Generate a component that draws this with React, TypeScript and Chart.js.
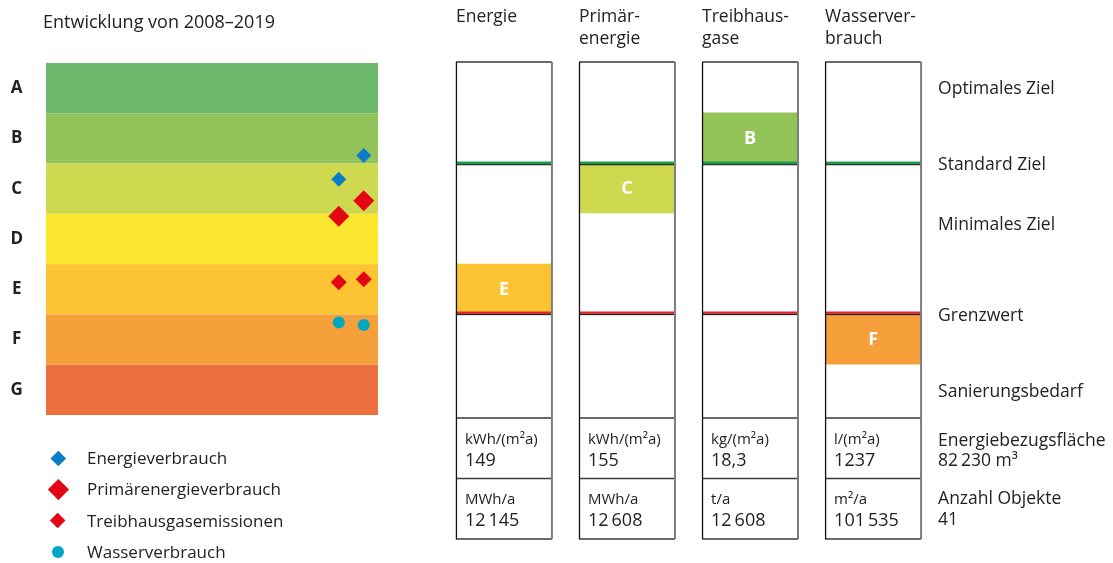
import React, { useEffect, useRef } from 'react';
import { Chart, registerables } from 'chart.js';

Chart.register(...registerables);

const FONT = '"Open Sans", "Noto Sans", sans-serif';
const TEXT = '#222222';

// Effizienzklassen A–G (oben nach unten) und ihre Farben
const klassen = ['A', 'B', 'C', 'D', 'E', 'F', 'G'];
const klassenFarben = ['#6db96e', '#93c45a', '#cfd94f', '#fde62f', '#fcc433', '#f5a03b', '#ed7040'];

// Entwicklung 2008 → 2019, Lage auf der Klassenskala (0 = Oberkante A, 7 = Unterkante G)
const jahre = ['2008', '2019'];
const energieverbrauch = [2.31, 1.84];
const primaerenergieverbrauch = [3.05, 2.74];
const treibhausgasemissionen = [4.36, 4.3];
const wasserverbrauch = [5.16, 5.21];

// Indikatoren und aktuelle Klasse (Index in klassen)
const indikatoren = ['Energie', 'Primär-\nenergie', 'Treibhaus-\ngase', 'Wasserver-\nbrauch'];
const indikatorKlasse = [4, 2, 1, 5];

// Zielwerte auf der Klassenskala
const standardZiel = 2;
const grenzwert = 5;
const zielBeschriftungen = ['Optimales Ziel', 'Standard Ziel', 'Minimales Ziel', 'Grenzwert', 'Sanierungsbedarf'];
const zielPositionen = [0.5, 2, 3.2, 5, 6.5];

// Kennzahlen je Indikator
const flaechenEinheiten = ['kWh/(m²a)', 'kWh/(m²a)', 'kg/(m²a)', 'l/(m²a)'];
const flaechenWerte = ['149', '155', '18,3', '1237'];
const gesamtEinheiten = ['MWh/a', 'MWh/a', 't/a', 'm²/a'];
const gesamtWerte = ['12\u2009145', '12\u2009608', '12\u2009608', '101\u2009535'];
const zusatzTitel = ['Energiebezugsfläche', 'Anzahl Objekte'];
const zusatzWerte = ['82\u2009230 m³', '41'];

const legende = [
  { label: 'Energieverbrauch', color: '#0b7cc6', style: 'rectRot', radius: 7.5 },
  { label: 'Primärenergieverbrauch', color: '#e30613', style: 'rectRot', radius: 10.5 },
  { label: 'Treibhausgasemissionen', color: '#e30613', style: 'rectRot', radius: 8 },
  { label: 'Wasserverbrauch', color: '#00a7c2', style: 'circle', radius: 6 },
];
const reihen = [energieverbrauch, primaerenergieverbrauch, treibhausgasemissionen, wasserverbrauch];

function Entwicklung() {
  const ref = useRef<HTMLCanvasElement>(null);
  useEffect(() => {
    const bands = {
      id: 'bands',
      beforeDatasetsDraw(chart: any) {
        const { ctx, chartArea, scales } = chart;
        const y = scales.y;
        klassenFarben.forEach((c, i) => {
          const t = y.getPixelForValue(i);
          const b = y.getPixelForValue(i + 1);
          ctx.fillStyle = c;
          ctx.fillRect(chartArea.left, t, chartArea.right - chartArea.left, b - t);
        });
      },
    };
    const chart = new Chart(ref.current!, {
      type: 'scatter',
      data: {
        datasets: legende.map((l, k) => ({
          label: l.label,
          data: jahre.map((_, i) => ({ x: i + 1, y: reihen[k][i] })),
          pointStyle: l.style as any,
          pointRadius: l.radius,
          pointHoverRadius: l.radius,
          backgroundColor: l.color,
          borderWidth: 0,
        })),
      },
      options: {
        responsive: false,
        animation: false,
        layout: { padding: { top: 63, bottom: 148, right: 22, left: 0 } },
        plugins: { legend: { display: false }, tooltip: { enabled: false } },
        scales: {
          x: { type: 'linear', min: -10.71, max: 2.57, display: false },
          y: {
            type: 'linear',
            reverse: true,
            min: 0,
            max: 7,
            grid: { display: false, drawTicks: false },
            border: { display: false },
            afterFit: (s: any) => {
              s.width = 46;
            },
            afterBuildTicks: (s: any) => {
              s.ticks = klassen.map((_, i) => ({ value: i + 0.5 }));
            },
            ticks: {
              padding: 23,
              crossAlign: 'center',
              color: TEXT,
              font: { family: FONT, size: 17, weight: 'bold' },
              callback: (_v: any, i: number) => klassen[i],
            },
          },
        },
      },
      plugins: [bands],
    });
    return () => chart.destroy();
  }, []);
  return <canvas ref={ref} width={400} height={563} style={{ position: 'absolute', left: 0, top: 0 }} />;
}

function Indikatoren() {
  const ref = useRef<HTMLCanvasElement>(null);
  useEffect(() => {
    const rahmen = {
      id: 'rahmen',
      afterDatasetsDraw(chart: any) {
        const { ctx, chartArea, scales } = chart;
        const y = scales.y;
        const bars = chart.getDatasetMeta(0).data;
        const top = chartArea.top;
        const rowH = 60.5;
        const row1 = chartArea.bottom;
        const row2 = row1 + rowH;
        const bottom = row2 + rowH;
        const yStd = y.getPixelForValue(standardZiel);
        const yGrenz = y.getPixelForValue(grenzwert);
        ctx.save();
        bars.forEach((bar: any, i: number) => {
          const l = bar.x - bar.width / 2;
          const r = bar.x + bar.width / 2;
          // Ziellinien
          ctx.fillStyle = '#1a9b4b';
          ctx.fillRect(l, yStd - 1.3, r - l, 2.5);
          ctx.fillStyle = '#1f2a22';
          ctx.fillRect(l, yStd + 1.2, r - l, 1.2);
          ctx.fillStyle = '#e3232d';
          ctx.fillRect(l, yGrenz - 2.6, r - l, 2.3);
          ctx.fillStyle = '#2a1f1f';
          ctx.fillRect(l, yGrenz - 0.3, r - l, 1.3);
          // Rahmen
          ctx.strokeStyle = '#3a3a3a';
          ctx.lineWidth = 1.5;
          ctx.beginPath();
          ctx.moveTo(l, top);
          ctx.lineTo(r, top);
          ctx.moveTo(l, row1);
          ctx.lineTo(r, row1);
          ctx.moveTo(l, row2);
          ctx.lineTo(r, row2);
          ctx.moveTo(l, bottom);
          ctx.lineTo(r, bottom);
          ctx.stroke();
          ctx.strokeStyle = '#111';
          ctx.lineWidth = 1.3;
          ctx.beginPath();
          ctx.moveTo(l + 0.5, top);
          ctx.lineTo(l + 0.5, bottom);
          ctx.stroke();
          ctx.strokeStyle = '#7d7d7d';
          ctx.lineWidth = 2;
          ctx.beginPath();
          ctx.moveTo(r, top);
          ctx.lineTo(r, bottom);
          ctx.stroke();
          // Klassenbuchstabe
          const k = indikatorKlasse[i];
          ctx.fillStyle = '#ffffff';
          ctx.font = `bold 18px ${FONT}`;
          ctx.textAlign = 'center';
          ctx.textBaseline = 'middle';
          ctx.fillText(klassen[k], bar.x, y.getPixelForValue(k + 0.5) + 1);
          // Kopfzeile
          ctx.fillStyle = TEXT;
          ctx.textAlign = 'left';
          ctx.font = `17.5px ${FONT}`;
          indikatoren[i].split('\n').forEach((t, j) => ctx.fillText(t, l, 17 + j * 22));
          // Kennzahlen
          ctx.font = `15px ${FONT}`;
          ctx.fillText(flaechenEinheiten[i], l + 9, row1 + 22);
          ctx.fillText(gesamtEinheiten[i], l + 9, row2 + 21);
          ctx.font = `18px ${FONT}`;
          ctx.fillText(flaechenWerte[i], l + 9, row1 + 43);
          ctx.fillText(gesamtWerte[i], l + 9, row2 + 42);
        });
        // Beschriftungen rechts
        const last = bars[bars.length - 1];
        const xr = last.x + last.width / 2 + 17;
        ctx.fillStyle = TEXT;
        ctx.textAlign = 'left';
        ctx.textBaseline = 'middle';
        ctx.font = `17.5px ${FONT}`;
        zielBeschriftungen.forEach((t, i) => ctx.fillText(t, xr, y.getPixelForValue(zielPositionen[i]) + 2));
        ctx.fillText(zusatzTitel[0], xr, row1 + 23);
        ctx.fillText(zusatzWerte[0], xr, row1 + 43);
        ctx.fillText(zusatzTitel[1], xr, row2 + 21);
        ctx.fillText(zusatzWerte[1], xr, row2 + 42);
        ctx.restore();
      },
    };
    const chart = new Chart(ref.current!, {
      type: 'bar',
      data: {
        labels: indikatoren,
        datasets: [
          {
            data: indikatorKlasse.map((k) => [k, k + 1]) as any,
            backgroundColor: indikatorKlasse.map((k) => klassenFarben[k]),
            borderWidth: 0,
            barPercentage: 1,
            categoryPercentage: 0.78,
          },
        ],
      },
      options: {
        responsive: false,
        animation: false,
        layout: { padding: { left: 42.4, right: 178.4, top: 62, bottom: 145 } },
        plugins: { legend: { display: false }, tooltip: { enabled: false } },
        scales: {
          x: { display: false },
          y: { display: false, reverse: true, min: 0, max: 7.06 },
        },
      },
      plugins: [rahmen],
    });
    return () => chart.destroy();
  }, []);
  return <canvas ref={ref} width={713} height={563} style={{ position: 'absolute', left: 400, top: 0 }} />;
}

export default function App() {
  return (
    <div style={{ position: 'absolute', left: 0, top: 0, width: 1113, height: 563, background: '#fff', fontFamily: FONT, color: TEXT }}>
      <Entwicklung />
      <Indikatoren />
      <div style={{ position: 'absolute', left: 43, top: 9, fontSize: 18, lineHeight: '24px' }}>Entwicklung von 2008–2019</div>
      {legende.map((l, i) => {
        const cy = 458 + i * 31.3;
        const isCircle = l.style === 'circle';
        const side = isCircle ? l.radius * 2 : l.radius * Math.SQRT2;
        return (
          <React.Fragment key={l.label}>
            <div
              style={{
                position: 'absolute',
                left: 58 - side / 2,
                top: cy - side / 2,
                width: side,
                height: side,
                background: l.color,
                borderRadius: isCircle ? '50%' : 0,
                transform: isCircle ? undefined : 'rotate(45deg)',
              }}
            />
            <div style={{ position: 'absolute', left: 87, top: cy - 12, fontSize: 17, lineHeight: '24px' }}>{l.label}</div>
          </React.Fragment>
        );
      })}
    </div>
  );
}
